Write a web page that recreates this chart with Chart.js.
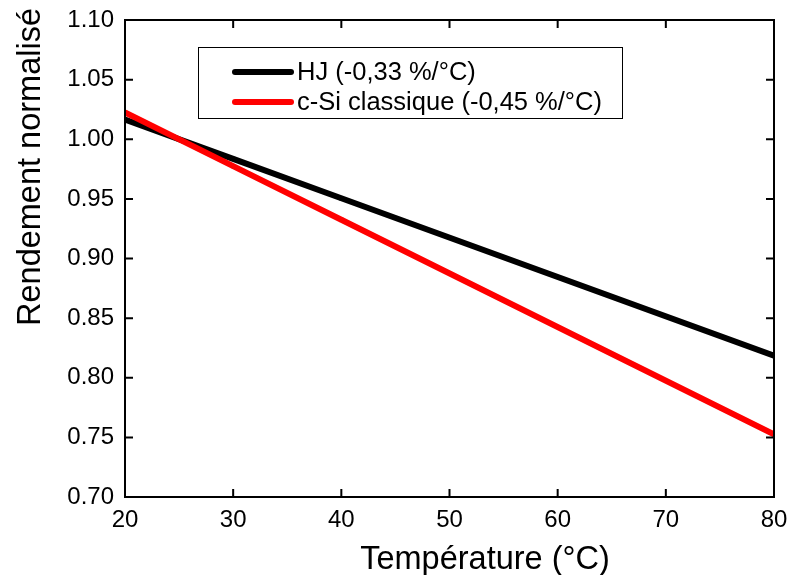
<!DOCTYPE html>
<html>
<head>
<meta charset="utf-8">
<script src="https://cdn.jsdelivr.net/npm/chart.js@4"></script>
<style>
  html, body { margin: 0; padding: 0; background: #fff; }
  #wrap { width: 789px; height: 575px; }
</style>
</head>
<body>
<div id="wrap"><canvas id="rendChart" width="789" height="575"></canvas></div>
<script>
// values
const temperatures = [20, 30, 40, 80];
const hjValues = [1.0165, 0.9835, 0.9505, 0.8185];
const cSiValues = [1.0225, 0.9775, 0.9325, 0.7525];
const seriesLabels = ["HJ (-0,33 %/°C)", "c-Si classique (-0,45 %/°C)"];
const seriesColors = ["#000000", "#ff0000"];
const xTicks = [20, 30, 40, 50, 60, 70, 80];
const yTicks = [0.70, 0.75, 0.80, 0.85, 0.90, 0.95, 1.00, 1.05, 1.10];

const FONT = "'Liberation Sans', Arial, sans-serif";

function toPoints(xs, ys) {
    return xs.map((x, i) => ({ x: x, y: ys[i] }));
}

// frame, inward ticks, titles and legend
const decor = {
    id: "decor",
    afterDatasetsDraw(chart) {
        const c = chart.ctx;
        const a = chart.chartArea;
        const sx = chart.scales.x, sy = chart.scales.y;
        c.save();
        c.strokeStyle = "#000";
        c.lineWidth = 2;
        c.strokeRect(a.left, a.top, a.right - a.left, a.bottom - a.top);
        c.beginPath();
        for (const t of xTicks) {
            const px = sx.getPixelForValue(t);
            c.moveTo(px, a.bottom); c.lineTo(px, a.bottom - 8);
            c.moveTo(px, a.top); c.lineTo(px, a.top + 8);
        }
        for (const t of yTicks) {
            const py = sy.getPixelForValue(t);
            c.moveTo(a.left, py); c.lineTo(a.left + 8, py);
            c.moveTo(a.right, py); c.lineTo(a.right - 8, py);
        }
        c.stroke();

        // axis titles
        c.fillStyle = "#000";
        c.font = "32.5px " + FONT;
        c.textAlign = "center";
        c.textBaseline = "alphabetic";
        c.fillText("Température (°C)", 485, 569);
        c.save();
        c.translate(40, 167);
        c.rotate(-Math.PI / 2);
        c.fillText("Rendement normalisé", 0, 0);
        c.restore();

        // legend box
        c.lineWidth = 1;
        c.strokeRect(198.5, 47.5, 424, 71);
        const rows = [72, 102];
        chart.data.datasets.slice().sort((p, q) => p.legendIndex - q.legendIndex).forEach((ds, i) => {
            const y = rows[i];
            c.strokeStyle = ds.borderColor;
            c.lineWidth = 6;
            c.lineCap = "round";
            c.beginPath();
            c.moveTo(235, y); c.lineTo(291, y);
            c.stroke();
            c.fillStyle = ds.borderColor;
            c.fillRect(260, y - 3, 6, 6);
            c.fillStyle = "#000";
            c.font = "25.5px " + FONT;
            c.textAlign = "left";
            c.textBaseline = "middle";
            c.fillText(ds.label, 297, y + 1);
        });
        c.restore();
    }
};

const ctx = document.getElementById("rendChart").getContext("2d");

const chart = new Chart(ctx, {
    type: "line",
    data: {
        datasets: [
            {
                label: seriesLabels[1],
                legendIndex: 1,
                data: toPoints(temperatures, cSiValues),
                borderColor: seriesColors[1],
                backgroundColor: seriesColors[1],
                borderWidth: 6,
                pointStyle: "rect",
                pointRadius: 3,
                pointBorderWidth: 0,
                tension: 0
            },
            {
                label: seriesLabels[0],
                legendIndex: 0,
                data: toPoints(temperatures, hjValues),
                borderColor: seriesColors[0],
                backgroundColor: seriesColors[0],
                borderWidth: 6,
                pointStyle: "rect",
                pointRadius: 3,
                pointBorderWidth: 0,
                tension: 0
            }
        ]
    },
    options: {
        responsive: false,
        animation: false,
        events: [],
        layout: { padding: { top: 20, right: 15, left: 0, bottom: 0 } },
        plugins: { legend: { display: false }, tooltip: { enabled: false } },
        scales: {
            x: {
                type: "linear",
                min: 20,
                max: 80,
                afterBuildTicks: (s) => { s.ticks = xTicks.map(v => ({ value: v })); },
                afterFit: (s) => { s.height = 78; s.paddingLeft = 0; s.paddingRight = 0; },
                grid: { display: false, drawTicks: false },
                border: { display: false },
                ticks: {
                    padding: 9,
                    color: "#000",
                    font: { family: FONT, size: 24 },
                    maxRotation: 0,
                    callback: (v) => String(v)
                }
            },
            y: {
                type: "linear",
                min: 0.7,
                max: 1.1,
                afterBuildTicks: (s) => { s.ticks = yTicks.map(v => ({ value: v })); },
                afterFit: (s) => { s.width = 125; s.paddingTop = 0; s.paddingBottom = 0; },
                grid: { display: false, drawTicks: false },
                border: { display: false },
                ticks: {
                    padding: 11,
                    color: "#000",
                    font: { family: FONT, size: 24 },
                    callback: (v) => v.toFixed(2)
                }
            }
        }
    },
    plugins: [decor]
});
</script>
</body>
</html>
